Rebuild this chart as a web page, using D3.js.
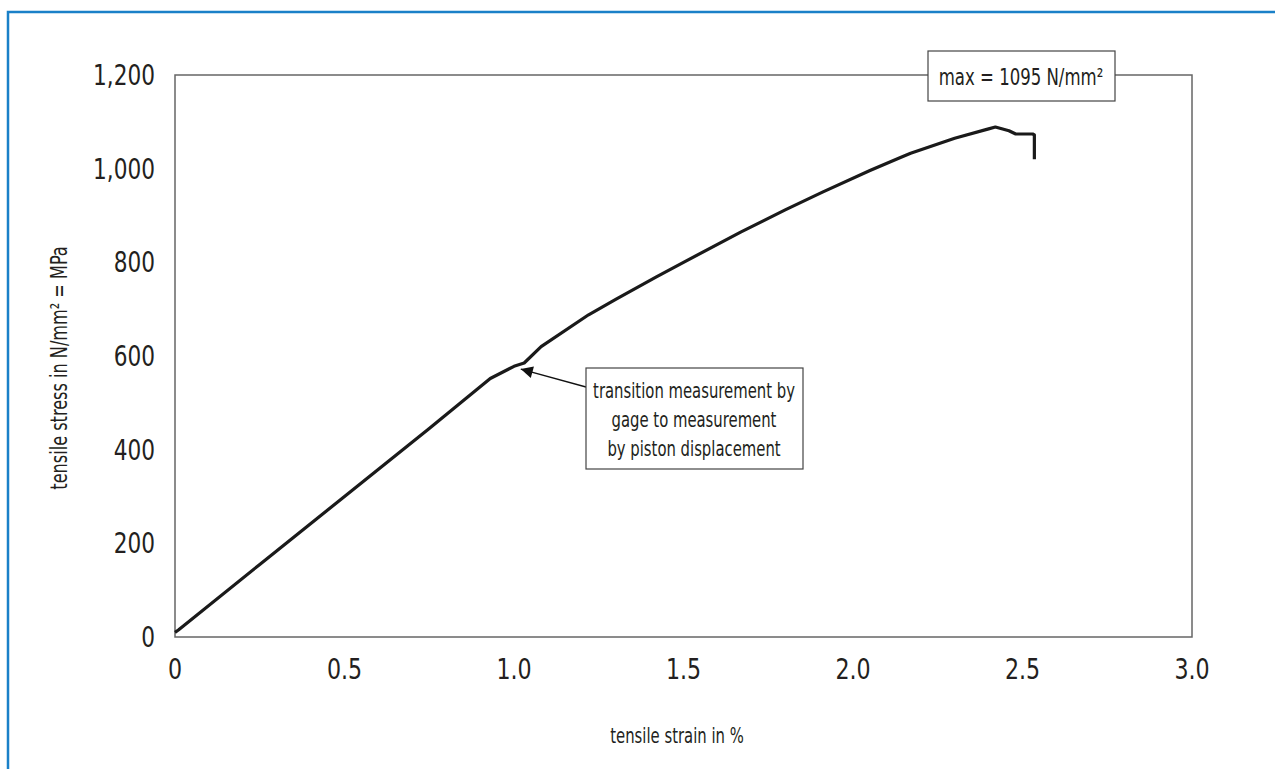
<!DOCTYPE html>
<html>
<head>
<meta charset="utf-8">
<script src="https://cdn.jsdelivr.net/npm/d3@7"></script>
<style>
  body { margin: 0; background: #fff; }
  svg text { font-family: 'DejaVu Sans Condensed', 'Liberation Sans Narrow', sans-serif; fill: #231f20; }
</style>
</head>
<body>
<div id="container"></div>
<script>
// curve: strain in %, stress in N/mm2
const strain = [0, 0.01, 0.25, 0.5, 0.75, 0.93, 1.0, 1.03, 1.08, 1.22, 1.3, 1.42, 1.5, 1.67, 1.8, 1.91, 2.05, 2.14, 2.17, 2.30, 2.40, 2.42, 2.46, 2.48, 2.53, 2.535, 2.535]
const stress = [10, 15, 155, 300, 445, 552, 578, 585, 620, 688, 721, 769, 800, 865, 912, 950, 996, 1024, 1033, 1065, 1085, 1089, 1081, 1074, 1074, 1072, 1020]

const xTicks = [0, 0.5, 1.0, 1.5, 2.0, 2.5, 3.0]
const yTicks = [0, 200, 400, 600, 800, 1000, 1200]

const xTitle = "tensile strain in %"
const yTitle = "tensile stress in N/mm² = MPa"
const maxNote = "max = 1095 N/mm²"
const noteLines = ["transition measurement by", "gage to measurement", "by piston displacement"]
const notePoint = [1.02, 572]

const width = 1275
const height = 769
const m = {left: 175, top: 75, right: 1192, bottom: 637}

const svg = d3.create("svg")
  .attr("width", width)
  .attr("height", height)
container.append(svg.node())

// the picture's font is very narrow, so squeeze the text sideways
const squeeze = (sel, px, py, sx, rot = 0) =>
  sel.attr("transform", `translate(${px},${py}) rotate(${rot}) scale(${sx},1)`)

// blue frame, only left and top edges show
svg.append("path")
  .attr("d", `M8,${height} L8,12 L${width},12`)
  .style("fill", "none")
  .style("stroke", "#1a80c8")
  .style("stroke-width", 2.5)

const x = d3.scaleLinear().domain([0, 3]).range([m.left, m.right])
const y = d3.scaleLinear().domain([0, 1200]).range([m.bottom, m.top])

// plot box
svg.append("rect")
  .attr("x", m.left).attr("y", m.top)
  .attr("width", m.right - m.left).attr("height", m.bottom - m.top)
  .style("fill", "none")
  .style("stroke", "#666")
  .style("stroke-width", 1.5)

svg.selectAll(".xt")
  .data(xTicks)
  .join("text")
  .attr("class", "xt")
  .attr("transform", d => `translate(${x(d)},679) scale(0.88,1)`)
  .attr("text-anchor", "middle")
  .style("font-size", "28px")
  .text(d => d === 0 ? "0" : d.toFixed(1))

svg.selectAll(".yt")
  .data(yTicks)
  .join("text")
  .attr("class", "yt")
  .attr("transform", d => `translate(155,${y(d) + 10}) scale(0.86,1)`)
  .attr("text-anchor", "end")
  .style("font-size", "28px")
  .text(d => d3.format(",")(d))

svg.append("text")
  .call(squeeze, 677, 743, 0.75)
  .attr("text-anchor", "middle")
  .style("font-size", "22px")
  .text(xTitle)

svg.append("text")
  .call(squeeze, 67, 368, 0.78, -90)
  .attr("text-anchor", "middle")
  .style("font-size", "23px")
  .text(yTitle)

const line = d3.line()
  .x((d, i) => x(strain[i]))
  .y(d => y(d))

svg.append("path")
  .datum(stress)
  .attr("d", line)
  .style("fill", "none")
  .style("stroke", "#1a1a1a")
  .style("stroke-width", 3.2)
  .style("stroke-linejoin", "round")

// max label box over top border
svg.append("rect")
  .attr("x", 928).attr("y", 51)
  .attr("width", 187).attr("height", 50)
  .style("fill", "#fff")
  .style("stroke", "#444")
  .style("stroke-width", 1.2)
svg.append("text")
  .call(squeeze, 1021, 85, 0.8)
  .attr("text-anchor", "middle")
  .style("font-size", "23px")
  .text(maxNote)

// transition note with arrow
svg.append("defs").append("marker")
  .attr("id", "arr")
  .attr("viewBox", "0 0 10 10")
  .attr("refX", 10).attr("refY", 5)
  .attr("markerWidth", 17).attr("markerHeight", 12)
  .attr("markerUnits", "userSpaceOnUse")
  .attr("orient", "auto")
  .append("path")
  .attr("d", "M0,0 L10,5 L0,10 Z")
  .style("fill", "#111")

svg.append("line")
  .attr("x1", 586).attr("y1", 387)
  .attr("x2", x(notePoint[0])).attr("y2", y(notePoint[1]))
  .style("stroke", "#111")
  .style("stroke-width", 1.3)
  .attr("marker-end", "url(#arr)")

svg.append("rect")
  .attr("x", 586).attr("y", 368)
  .attr("width", 217).attr("height", 101)
  .style("fill", "#fff")
  .style("stroke", "#444")
  .style("stroke-width", 1.2)

svg.selectAll(".note")
  .data(noteLines)
  .join("text")
  .attr("class", "note")
  .attr("transform", (d, i) => `translate(694,${398 + i * 29}) scale(0.75,1)`)
  .attr("text-anchor", "middle")
  .style("font-size", "22px")
  .text(d => d)
</script>
</body>
</html>
